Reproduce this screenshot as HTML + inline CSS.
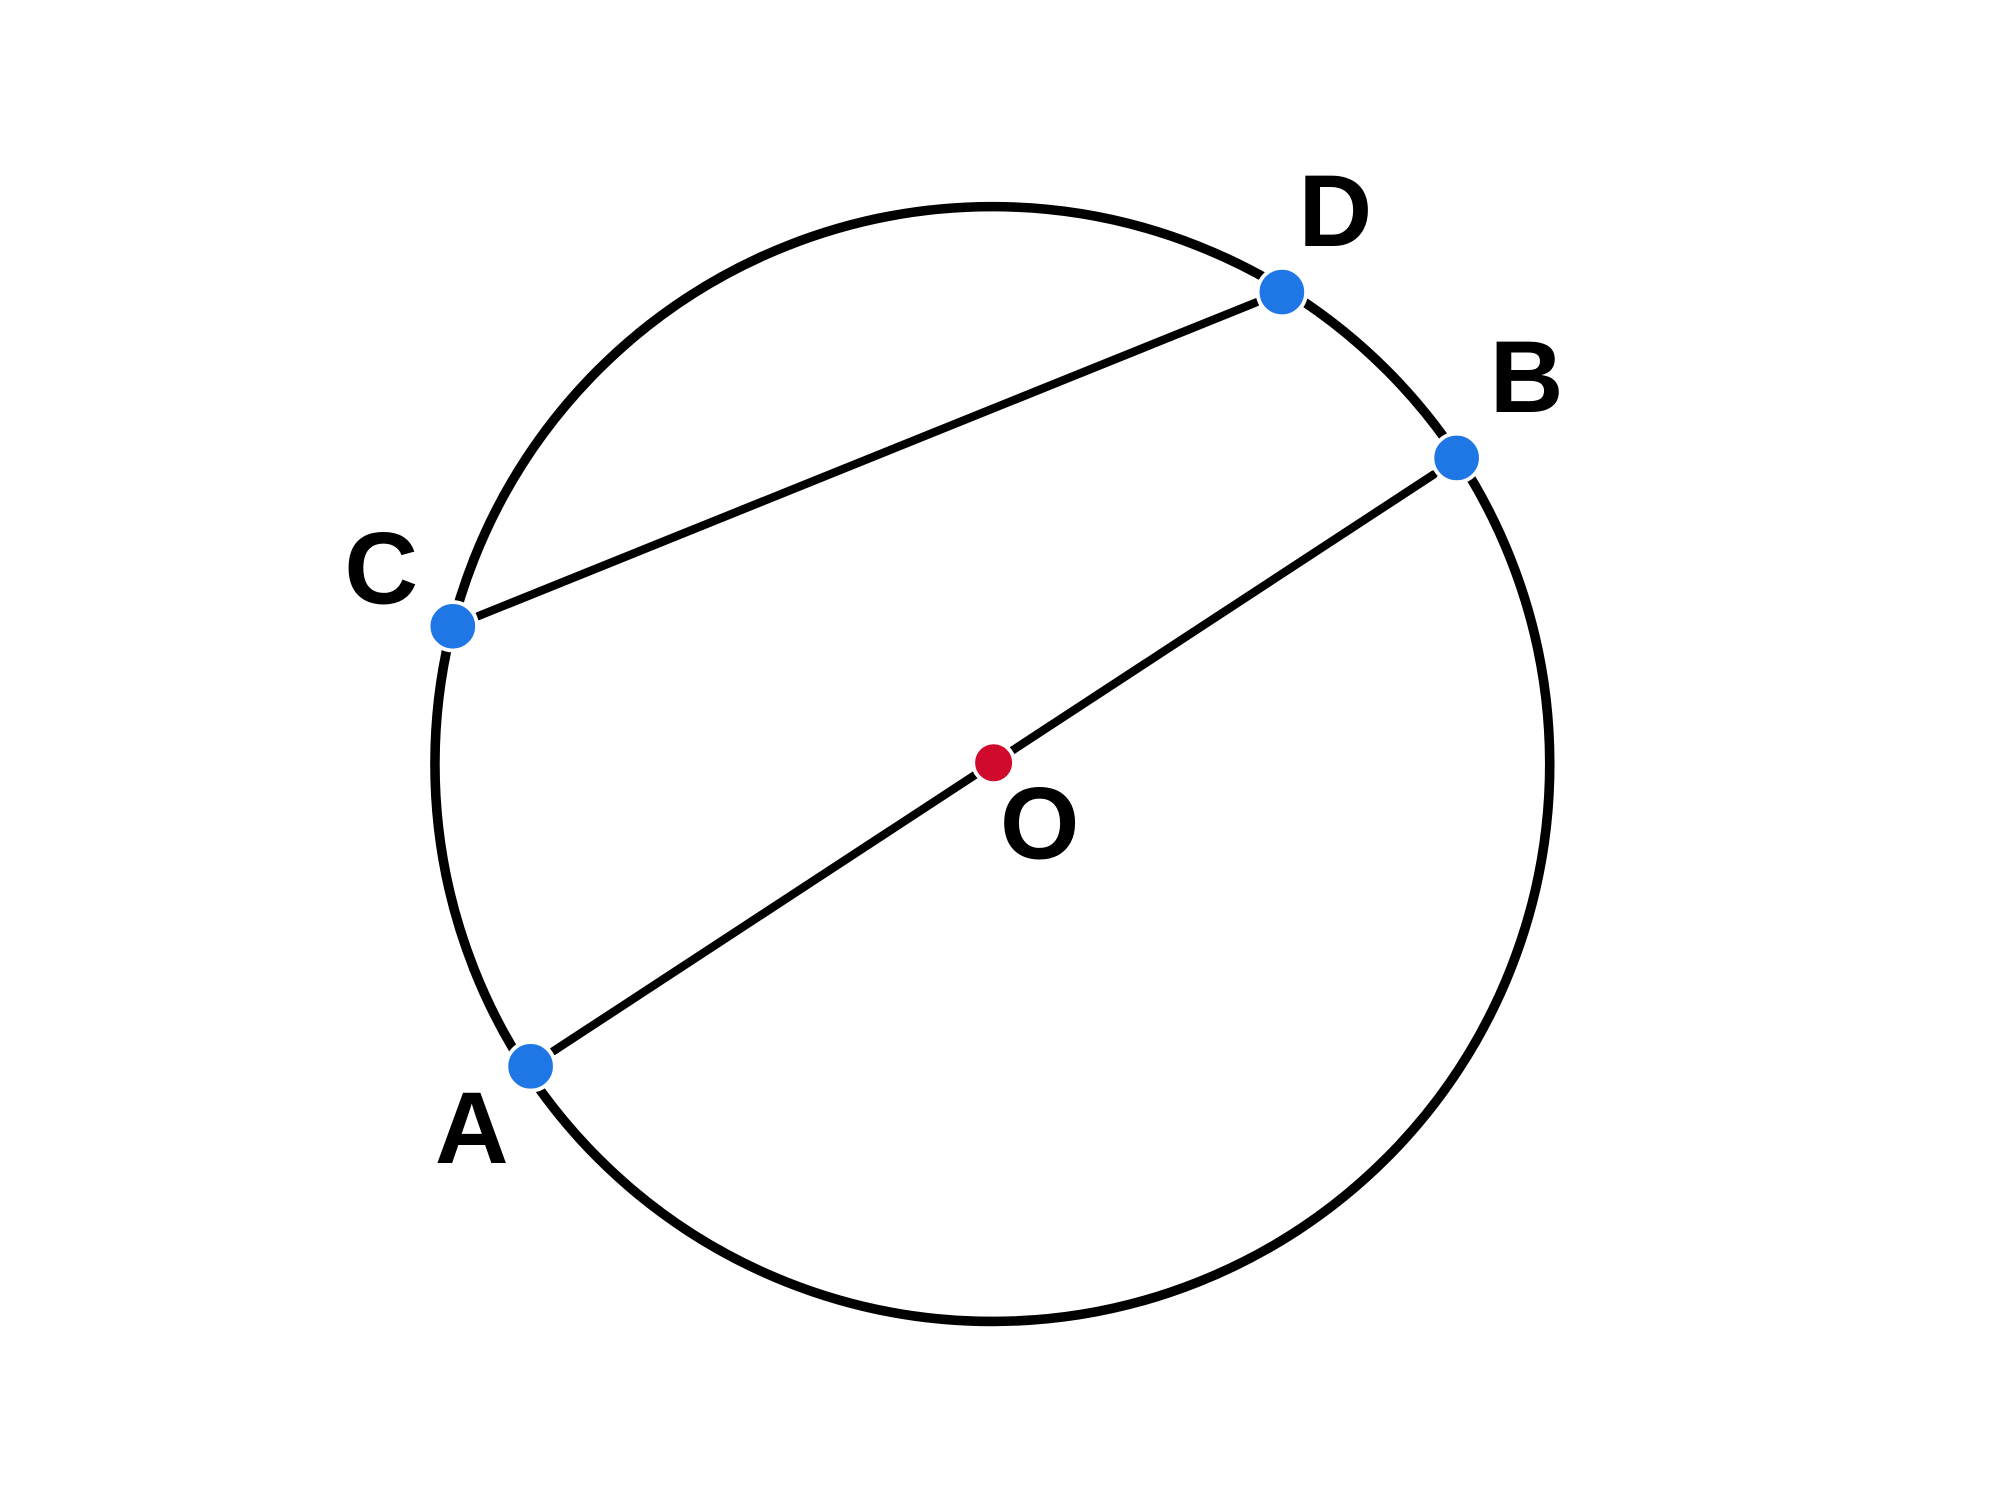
<!DOCTYPE html>
<html><head><meta charset="utf-8"><style>
html,body{margin:0;padding:0;background:#fff;}
svg{display:block;}
text{font-family:"Liberation Sans",sans-serif;font-weight:bold;font-size:80px;fill:#000;}
</style></head><body>
<svg width="2000" height="1500" viewBox="0 0 1568 1176" preserveAspectRatio="none">
<rect width="1568" height="1176" fill="#fff"/>
<circle cx="778" cy="599" r="437" fill="none" stroke="#000" stroke-width="7.5"/>
<line x1="375" y1="483" x2="985" y2="237" stroke="#000" stroke-width="6.5" stroke-linecap="round"/>
<line x1="434" y1="824" x2="1124" y2="372" stroke="#000" stroke-width="6.5" stroke-linecap="round"/>
<g stroke="#fff" stroke-width="3">
<circle cx="1005" cy="229" r="19" fill="#1f77e6"/>
<circle cx="1142" cy="359" r="19" fill="#1f77e6"/>
<circle cx="355" cy="491" r="19" fill="#1f77e6"/>
<circle cx="416" cy="836" r="19" fill="#1f77e6"/>
<circle cx="779" cy="598" r="16" fill="#cf0a2c"/>
</g>
<text x="1018" y="193">D</text>
<text x="1168" y="323">B</text>
<text x="270" y="473">C</text>
<text x="341" y="912">A</text>
<text x="784" y="673">O</text>
</svg>
</body></html>
